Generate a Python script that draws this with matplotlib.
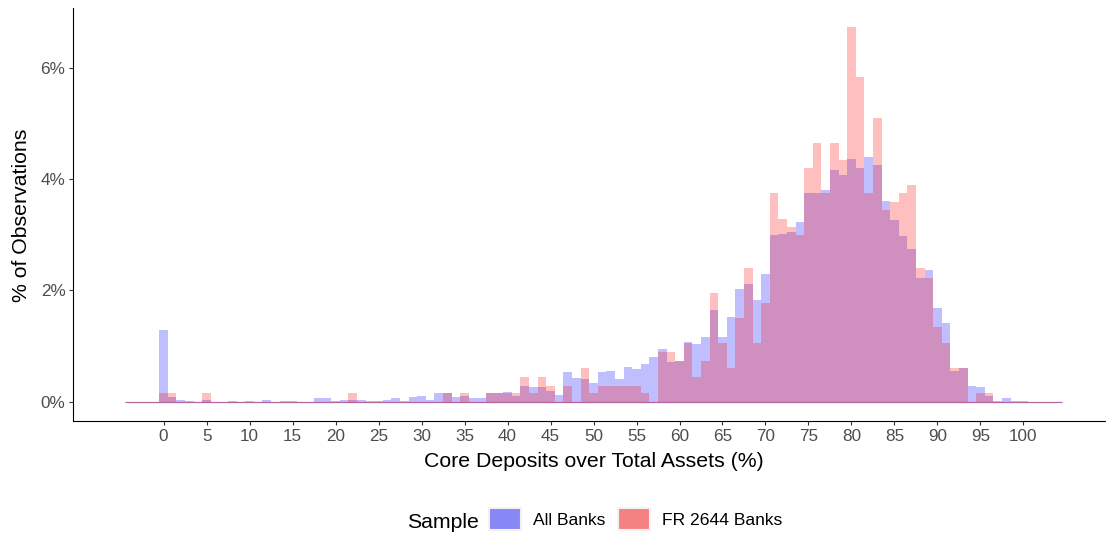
import matplotlib
matplotlib.use("Agg")
import matplotlib.pyplot as plt
from matplotlib.patches import Patch
import numpy as np

plt.rcParams['font.family'] = ['Liberation Sans', 'DejaVu Sans']

# Bin centres (width 1 percentage point)
bin_centers = list(range(-4, 105))

all_banks = {
    0: 1.28, 1: 0.08, 2: 0.04, 3: 0.02, 5: 0.04, 8: 0.02, 10: 0.02, 12: 0.04,
    14: 0.02, 15: 0.02, 18: 0.06, 19: 0.06, 20: 0.01, 21: 0.04, 22: 0.04,
    23: 0.04, 24: 0.02, 25: 0.02, 26: 0.04, 27: 0.06, 28: 0.01, 29: 0.08,
    30: 0.10, 31: 0.04, 32: 0.15, 33: 0.15, 34: 0.08, 35: 0.10, 36: 0.06,
    37: 0.06, 38: 0.15, 39: 0.15, 40: 0.17, 41: 0.10, 42: 0.29, 43: 0.26,
    44: 0.26, 45: 0.19, 46: 0.13, 47: 0.53, 48: 0.42, 49: 0.40, 50: 0.33,
    51: 0.54, 52: 0.56, 53: 0.40, 54: 0.63, 55: 0.58, 56: 0.67, 57: 0.80,
    58: 0.94, 59: 0.71, 60: 0.74, 61: 1.08, 62: 1.03, 63: 1.16, 64: 1.64,
    65: 1.16, 66: 1.53, 67: 2.02, 68: 2.11, 69: 1.82, 70: 2.29, 71: 2.99,
    72: 3.01, 73: 3.04, 74: 3.22, 75: 3.74, 76: 3.74, 77: 3.81, 78: 4.17,
    79: 4.08, 80: 4.35, 81: 4.19, 82: 4.39, 83: 4.26, 84: 3.60, 85: 3.26,
    86: 2.97, 87: 2.74, 88: 2.22, 89: 2.36, 90: 1.69, 91: 1.41, 92: 0.56,
    93: 0.60, 94: 0.28, 95: 0.26, 96: 0.10, 97: 0.01, 98: 0.06, 99: 0.02,
    100: 0.02,
}

fr2644_banks = {
    0: 0.15, 1: 0.15, 5: 0.15, 22: 0.15, 33: 0.15, 35: 0.15, 38: 0.15,
    39: 0.15, 40: 0.15, 41: 0.15, 42: 0.44, 43: 0.15, 44: 0.44, 45: 0.29,
    47: 0.29, 49: 0.60, 50: 0.15, 51: 0.29, 52: 0.29, 53: 0.29, 54: 0.29,
    55: 0.29, 56: 0.15, 58: 0.89, 59: 0.89, 60: 0.74, 61: 1.05, 62: 0.44,
    63: 0.74, 64: 1.95, 65: 1.05, 66: 0.60, 67: 1.50, 68: 2.40, 69: 1.05,
    70: 1.78, 71: 3.74, 72: 3.29, 73: 3.13, 74: 2.99, 75: 4.19, 76: 4.64,
    77: 3.74, 78: 4.64, 79: 4.34, 80: 6.72, 81: 5.83, 82: 3.74, 83: 5.09,
    84: 3.44, 85: 3.58, 86: 3.74, 87: 3.89, 88: 2.40, 89: 2.22, 90: 1.34,
    91: 1.05, 92: 0.60, 93: 0.60, 95: 0.15, 96: 0.15,
}

all_vals = [all_banks.get(c, 0.0) for c in bin_centers]
fr_vals = [fr2644_banks.get(c, 0.0) for c in bin_centers]

x_ticks = list(range(0, 101, 5))
y_ticks = [0, 2, 4, 6]
y_tick_labels = ['0%', '2%', '4%', '6%']

W, H = 1106, 533
fig = plt.figure(figsize=(W / 100, H / 100), dpi=100)
ax = fig.add_axes([73.3 / W, 1 - 420.7 / H, (W - 73.3) / W, (420.7 - 8) / H])

ax.bar(bin_centers, all_vals, width=1.0, color='#0000FF', alpha=0.25, linewidth=0)
ax.bar(bin_centers, fr_vals, width=1.0, color='#FF0000', alpha=0.25, linewidth=0)
ax.hlines(0, bin_centers[0] - 0.5, bin_centers[-1] + 0.5, color='#B8649E', linewidth=0.9)

ax.set_xlim(-10.5, 109.6)
ax.set_ylim(-0.34, 7.07)
ax.set_xticks(x_ticks)
ax.set_xticklabels([str(t) for t in x_ticks])
ax.set_yticks(y_ticks)
ax.set_yticklabels(y_tick_labels)

for s in ['top', 'right']:
    ax.spines[s].set_visible(False)
for s in ['left', 'bottom']:
    ax.spines[s].set_color('black')
    ax.spines[s].set_linewidth(0.8)

ax.tick_params(axis='both', length=3.2, width=0.8, color='#333333',
               labelcolor='#4D4D4D', labelsize=12.3, pad=2.5)

fig.text(593.5 / W, 1 - 466.7 / H, 'Core Deposits over Total Assets (%)',
         ha='center', va='baseline', fontsize=15.3, color='black')
fig.text(21.7 / W, 1 - 215 / H, '% of Observations', rotation=90,
         ha='center', va='center', fontsize=15.3, color='black')

# Legend
fig.text(406.7 / W, 1 - 528.3 / H, 'Sample', ha='left', va='baseline',
         fontsize=15.3, color='black')
handles = [
    Patch(facecolor='#8787F5', edgecolor='#F2F2F2', linewidth=1.5, label='All Banks'),
    Patch(facecolor='#F58282', edgecolor='#F2F2F2', linewidth=1.5, label='FR 2644 Banks'),
]
fs = 12.6
fs_px = fs * 100 / 72
fig.legend(handles=handles, loc='center left',
           bbox_to_anchor=(489.3 / W, 1 - 519 / H), ncol=2, frameon=False,
           fontsize=fs, borderpad=0, borderaxespad=0,
           handlelength=32 / fs_px, handleheight=28 / fs_px,
           handletextpad=12 / fs_px, columnspacing=12 / fs_px)

fig.savefig('out.png', dpi=100)
